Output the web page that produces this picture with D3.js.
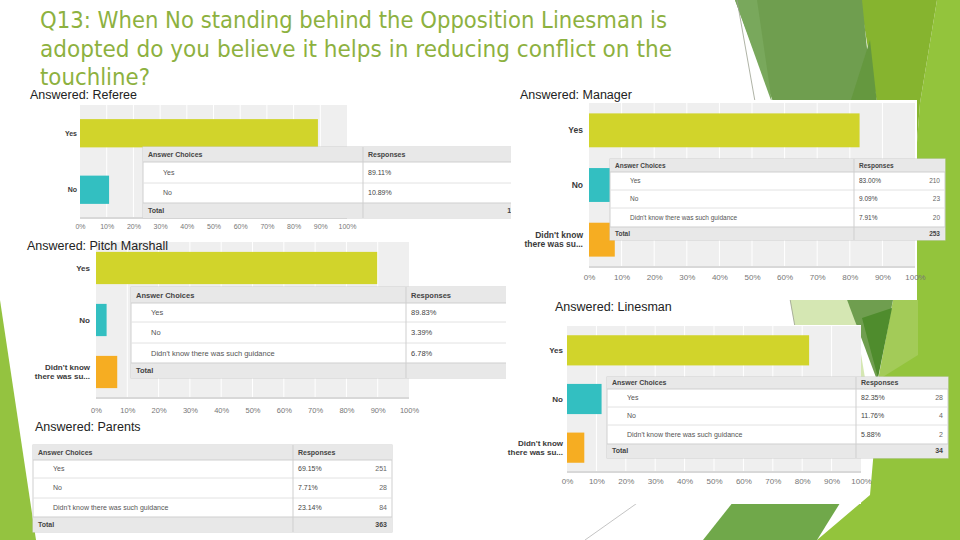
<!DOCTYPE html>
<html>
<head>
<meta charset="utf-8">
<script src="https://cdn.jsdelivr.net/npm/d3@7.9.0/dist/d3.min.js"></script>
<style>
  html, body { margin: 0; padding: 0; background: #fff; }
  svg { display: block; }
</style>
</head>
<body>
<div id="chart"></div>
<script>
// ---------- data ----------
const choices = ['Yes', 'No', "Didn't know there was such guidance"];
const axisCats = [['Yes'], ['No'], ["Didn't know", 'there was su...']];
const tickValues = [0, 10, 20, 30, 40, 50, 60, 70, 80, 90, 100];

const refereePct = [89.11, 10.89];
const refereeCount = [90, 11];
const managerPct = [83.00, 9.09, 7.91];
const managerCount = [210, 23, 20];
const marshallPct = [89.83, 3.39, 6.78];
const marshallCount = [53, 2, 4];
const linesmanPct = [82.35, 11.76, 5.88];
const linesmanCount = [28, 4, 2];
const parentsPct = [69.15, 7.71, 23.14];
const parentsCount = [251, 28, 84];

const titleLines = [
  'Q13: When No standing behind the Opposition Linesman is',
  'adopted do you believe it helps in reducing conflict on the',
  'touchline?'
];

const barColors = ['#d1d42b', '#33bfc1', '#f6ad22'];
const FONT = '"Liberation Sans", Arial, sans-serif';

const svg = d3.select('#chart').append('svg')
  .attr('width', 960).attr('height', 540);

// ---------- slide background (theme facets) ----------
const bg = svg.append('g');
const poly = (pts, fill) => bg.append('polygon')
  .attr('points', pts.map(p => p.join(',')).join(' '))
  .attr('fill', fill);

poly([[0, 300], [36, 540], [0, 540]], '#94c340');
poly([[937, 0], [960, 0], [960, 540], [817, 540], [870, 495], [880, 380], [905, 300], [920, 103]], '#93c43c');
poly([[860, 0], [937, 0], [920, 103], [905, 300], [893, 300], [877, 103]], '#86b42f');
poly([[790, 300], [852, 300], [872, 420], [812, 420]], '#d5e7b3');
poly([[893, 300], [918, 300], [918, 355], [878, 380]], '#a3cb58');
poly([[735, 0], [862, 0], [893, 300], [877, 380]], '#6f9e4f');
poly([[735, 0], [757, 0], [772, 103]], '#79a85c');
poly([[870, 40], [877, 103], [850, 103]], '#65983f');
poly([[862, 318], [892, 308], [878, 378]], '#4f8c2d');
poly([[703, 540], [745, 487], [850, 487], [817, 540]], '#70a84a');
bg.append('line').attr('x1', 737).attr('y1', 0).attr('x2', 795).attr('y2', 327)
  .attr('stroke', '#9aa08f').attr('stroke-width', 0.8);
bg.append('line').attr('x1', 585).attr('y1', 540).attr('x2', 650).attr('y2', 494)
  .attr('stroke', '#b5b5b5').attr('stroke-width', 0.8);

// white screenshot panels
svg.append('rect').attr('x', 520).attr('y', 100).attr('width', 397).attr('height', 200).attr('fill', '#fff');
svg.append('rect').attr('x', 537).attr('y', 325).attr('width', 324).attr('height', 179).attr('fill', '#fff');

// ---------- bar chart panels ----------
function drawBars(box, pcts) {
  const g = svg.append('g');
  const x = d3.scaleLinear().domain([0, 100]).range([box.left, box.right]);
  const y = d3.scaleBand().domain(d3.range(pcts.length))
    .range([box.top, box.bottom]).paddingInner(box.pi).paddingOuter(box.po);

  g.append('rect')
    .attr('x', box.left).attr('y', box.top)
    .attr('width', box.right - box.left).attr('height', box.bottom - box.top)
    .attr('fill', '#efefef');

  g.selectAll('line.grid').data(tickValues.slice(1, -1)).join('line')
    .attr('class', 'grid')
    .attr('x1', d => x(d)).attr('x2', d => x(d))
    .attr('y1', box.top).attr('y2', box.bottom)
    .attr('stroke', '#fff').attr('stroke-width', 1);

  g.append('line')
    .attr('x1', box.left).attr('x2', box.right)
    .attr('y1', box.bottom).attr('y2', box.bottom)
    .attr('stroke', '#d8d8d8').attr('stroke-width', 2);

  g.selectAll('rect.bar').data(pcts).join('rect')
    .attr('class', 'bar')
    .attr('x', x(0)).attr('y', (d, i) => y(i))
    .attr('width', d => x(d) - x(0)).attr('height', y.bandwidth())
    .attr('fill', (d, i) => barColors[i]);

  const cat = g.selectAll('text.cat').data(axisCats.slice(0, pcts.length)).join('text')
    .attr('class', 'cat')
    .attr('x', box.catX)
    .attr('y', (d, i) => y(i) + y.bandwidth() / 2 - (d.length - 1) * box.catFont * 0.55)
    .attr('text-anchor', 'end')
    .attr('font-family', FONT).attr('font-size', box.catFont)
    .attr('font-weight', 'bold').attr('fill', '#3a3a3a');
  cat.selectAll('tspan').data(d => d).join('tspan')
    .attr('x', box.catX)
    .attr('dy', (d, i) => i === 0 ? '0.35em' : '1.1em')
    .text(d => d);

  const axis = d3.axisBottom(x).tickValues(tickValues)
    .tickSize(0).tickPadding(0).tickFormat(d => d + '%');
  g.append('g')
    .attr('transform', `translate(0,${box.tickY})`)
    .call(axis)
    .call(a => a.select('.domain').remove())
    .call(a => a.selectAll('text')
      .attr('font-family', FONT).attr('font-size', box.font).attr('fill', '#777'));
}

// ---------- response tables ----------
let clipId = 0;
function drawTable(t, pcts, counts) {
  const g = svg.append('g');
  if (t.clip) {
    const id = 'clip' + (clipId++);
    svg.append('clipPath').attr('id', id).append('rect')
      .attr('x', t.x0 - 2).attr('y', t.edges[0] - 2)
      .attr('width', t.clip - t.x0 + 2).attr('height', 200);
    g.attr('clip-path', `url(#${id})`);
  }
  const e = t.edges;
  const last = e.length - 1;
  const w = t.x1 - t.x0;
  const rows = pcts.map((p, i) => ({ label: choices[i], pct: p, count: counts[i], y0: e[i + 1], y1: e[i + 2] }));

  g.append('rect').attr('x', t.x0).attr('y', e[0]).attr('width', w).attr('height', e[last] - e[0])
    .attr('fill', '#fff').attr('stroke', '#cfcfcf');
  g.append('rect').attr('x', t.x0).attr('y', e[0]).attr('width', w).attr('height', e[1] - e[0])
    .attr('fill', '#e8e8e8');
  g.append('rect').attr('x', t.x0).attr('y', e[last - 1]).attr('width', w).attr('height', e[last] - e[last - 1])
    .attr('fill', '#e8e8e8');

  g.selectAll('line.sep').data(e.slice(1, last)).join('line')
    .attr('class', 'sep')
    .attr('x1', t.x0).attr('x2', t.x1).attr('y1', d => d).attr('y2', d => d)
    .attr('stroke', (d, i) => i === 0 || i === last - 2 ? '#cfcfcf' : '#e2e2e2');
  g.append('line').attr('x1', t.div).attr('x2', t.div).attr('y1', e[0]).attr('y2', e[last])
    .attr('stroke', '#cfcfcf');

  const txt = (x, y, s, opt = {}) => g.append('text')
    .attr('x', x).attr('y', y).attr('dy', '0.35em')
    .attr('text-anchor', opt.anchor || 'start')
    .attr('font-family', FONT).attr('font-size', opt.size || t.font)
    .attr('font-weight', opt.bold ? 'bold' : 'normal')
    .attr('fill', opt.color || '#555')
    .text(s);

  const mid = (a, b) => (a + b) / 2;
  txt(t.x0 + 5, mid(e[0], e[1]), 'Answer Choices', { bold: true, color: '#444' });
  txt(t.div + 5, mid(e[0], e[1]), 'Responses', { bold: true, color: '#444' });

  rows.forEach(r => {
    const cy = mid(r.y0, r.y1);
    txt(t.x0 + 20, cy, r.label);
    txt(t.div + 5, cy, d3.format('.2f')(r.pct) + '%', { color: '#444' });
    txt(t.x1 - 5, cy, r.count, { anchor: 'end', color: '#666' });
  });

  const cyT = mid(e[last - 1], e[last]);
  txt(t.x0 + 5, cyT, 'Total', { bold: true, color: '#444' });
  txt(t.x1 - 5, cyT, d3.sum(counts), { anchor: 'end', bold: true, color: '#444' });
}

// Referee
drawBars({ left: 80, right: 347, top: 105, bottom: 218, pi: 0.5, po: 0.25, tickY: 224, font: 7, catFont: 7, catX: 77 }, refereePct);
drawTable({ x0: 143, x1: 524, div: 363, clip: 511, edges: [147, 162, 183, 203, 218], font: 7 }, refereePct, refereeCount);

// Manager
drawBars({ left: 589, right: 915, top: 103, bottom: 267, pi: 0.38, po: 0.19, tickY: 274, font: 8, catFont: 8.5, catX: 583 }, managerPct);
drawTable({ x0: 610, x1: 945, div: 854, edges: [159, 172, 190, 208, 227, 240], font: 6.5 }, managerPct, managerCount);

// Pitch Marshall
drawBars({ left: 96, right: 409, top: 242, bottom: 398, pi: 0.38, po: 0.19, tickY: 408, font: 7.5, catFont: 8, catX: 90 }, marshallPct);
drawTable({ x0: 131, x1: 520, div: 406, clip: 506, edges: [287, 303, 322, 343, 363, 378], font: 7.5 }, marshallPct, marshallCount);

// Linesman
drawBars({ left: 567, right: 861, top: 326, bottom: 472, pi: 0.38, po: 0.19, tickY: 478, font: 8, catFont: 8, catX: 563 }, linesmanPct);
drawTable({ x0: 607, x1: 948, div: 856, edges: [377, 389, 407, 425, 444, 458], font: 7 }, linesmanPct, linesmanCount);

// Parents (table only)
drawTable({ x0: 33, x1: 392, div: 293, edges: [445, 460, 478, 498, 517, 532], font: 7 }, parentsPct, parentsCount);

// ---------- slide texts ----------
const titleWidths = [627, 632, 110];
svg.append('g').selectAll('text').data(titleLines).join('text')
  .attr('x', 40).attr('y', (d, i) => 28 + i * 28.5)
  .attr('font-family', '"Trebuchet MS", "DejaVu Sans", sans-serif')
  .attr('font-size', 22.5)
  .attr('fill', '#8db13f')
  .attr('textLength', (d, i) => titleWidths[i])
  .attr('lengthAdjust', 'spacingAndGlyphs')
  .text(d => d);

const captions = [
  ['Answered: Referee', 30, 99],
  ['Answered: Manager', 520, 99],
  ['Answered: Pitch Marshall', 27, 250],
  ['Answered: Linesman', 555, 311],
  ['Answered: Parents', 35, 431]
];
svg.append('g').selectAll('text').data(captions).join('text')
  .attr('x', d => d[1]).attr('y', d => d[2])
  .attr('font-family', FONT).attr('font-size', 12.5)
  .attr('fill', '#222')
  .text(d => d[0]);
</script>
</body>
</html>
